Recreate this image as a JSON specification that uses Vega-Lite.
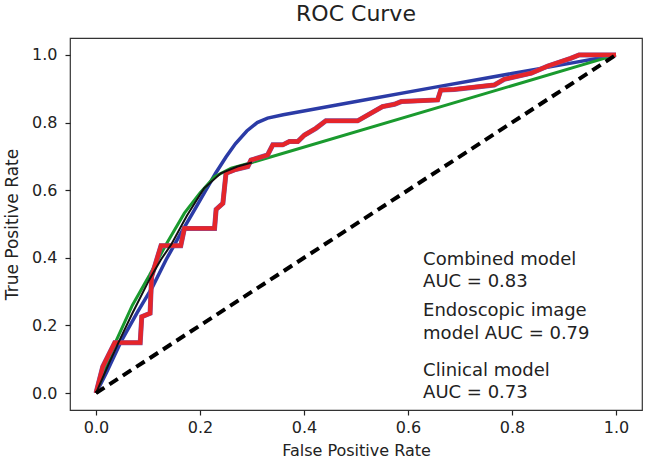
{
  "$schema": "https://vega.github.io/schema/vega-lite/v6.json",
  "autosize": {"type": "none"},
  "padding": {"left": 70, "top": 38, "right": 3, "bottom": 54},
  "width": 572,
  "height": 372,
  "background": "white",
  "title": {"text": "ROC Curve", "font": "DejaVu Sans", "fontSize": 22, "fontWeight": "normal", "color": "#222", "anchor": "middle", "frame": "group", "offset": 12},
  "config": {
    "view": {"stroke": "#333", "strokeWidth": 1.2},
    "axis": {"grid": false, "domain": false, "tickColor": "#222", "tickSize": 5, "tickWidth": 1.2, "labelFont": "DejaVu Sans", "labelFontSize": 16, "labelColor": "#222", "titleFont": "DejaVu Sans", "titleFontSize": 16, "titleFontWeight": "normal", "titleColor": "#222"}
  },
  "datasets": {
    "curves": [
      {"model": "diag", "i": 0, "fpr": 0, "tpr": 0},
      {"model": "diag", "i": 1, "fpr": 1, "tpr": 1},

      {"model": "combined", "i": 0, "fpr": 0, "tpr": 0},
      {"model": "combined", "i": 1, "fpr": 0.02, "tpr": 0.06},
      {"model": "combined", "i": 2, "fpr": 0.048, "tpr": 0.152},
      {"model": "combined", "i": 3, "fpr": 0.08, "tpr": 0.24},
      {"model": "combined", "i": 4, "fpr": 0.109, "tpr": 0.315},
      {"model": "combined", "i": 5, "fpr": 0.135, "tpr": 0.395},
      {"model": "combined", "i": 6, "fpr": 0.163, "tpr": 0.472},
      {"model": "combined", "i": 7, "fpr": 0.185, "tpr": 0.53},
      {"model": "combined", "i": 8, "fpr": 0.208, "tpr": 0.591},
      {"model": "combined", "i": 9, "fpr": 0.23, "tpr": 0.65},
      {"model": "combined", "i": 10, "fpr": 0.25, "tpr": 0.698},
      {"model": "combined", "i": 11, "fpr": 0.268, "tpr": 0.737},
      {"model": "combined", "i": 12, "fpr": 0.29, "tpr": 0.775},
      {"model": "combined", "i": 13, "fpr": 0.31, "tpr": 0.8},
      {"model": "combined", "i": 14, "fpr": 0.33, "tpr": 0.813},
      {"model": "combined", "i": 15, "fpr": 0.36, "tpr": 0.823},
      {"model": "combined", "i": 16, "fpr": 0.5, "tpr": 0.862},
      {"model": "combined", "i": 17, "fpr": 0.65, "tpr": 0.904},
      {"model": "combined", "i": 18, "fpr": 0.8, "tpr": 0.945},
      {"model": "combined", "i": 19, "fpr": 0.9, "tpr": 0.972},
      {"model": "combined", "i": 20, "fpr": 1, "tpr": 1},

      {"model": "clinical", "i": 0, "fpr": 0, "tpr": 0},
      {"model": "clinical", "i": 1, "fpr": 0.02, "tpr": 0.08},
      {"model": "clinical", "i": 2, "fpr": 0.038, "tpr": 0.152},
      {"model": "clinical", "i": 3, "fpr": 0.07, "tpr": 0.26},
      {"model": "clinical", "i": 4, "fpr": 0.103, "tpr": 0.349},
      {"model": "clinical", "i": 5, "fpr": 0.135, "tpr": 0.44},
      {"model": "clinical", "i": 6, "fpr": 0.17, "tpr": 0.532},
      {"model": "clinical", "i": 7, "fpr": 0.2, "tpr": 0.592},
      {"model": "clinical", "i": 8, "fpr": 0.228, "tpr": 0.64},
      {"model": "clinical", "i": 9, "fpr": 0.26, "tpr": 0.665},
      {"model": "clinical", "i": 10, "fpr": 0.3, "tpr": 0.682},
      {"model": "clinical", "i": 11, "fpr": 1, "tpr": 1},

      {"model": "thin", "i": 0, "fpr": 0, "tpr": 0},
      {"model": "thin", "i": 1, "fpr": 0.025, "tpr": 0.088},
      {"model": "thin", "i": 2, "fpr": 0.044, "tpr": 0.152},
      {"model": "thin", "i": 3, "fpr": 0.07, "tpr": 0.236},
      {"model": "thin", "i": 4, "fpr": 0.102, "tpr": 0.334},
      {"model": "thin", "i": 5, "fpr": 0.125, "tpr": 0.395},
      {"model": "thin", "i": 6, "fpr": 0.145, "tpr": 0.44},
      {"model": "thin", "i": 7, "fpr": 0.175, "tpr": 0.525},
      {"model": "thin", "i": 8, "fpr": 0.208, "tpr": 0.606},
      {"model": "thin", "i": 9, "fpr": 0.24, "tpr": 0.65},
      {"model": "thin", "i": 10, "fpr": 0.272, "tpr": 0.67},
      {"model": "thin", "i": 11, "fpr": 0.3, "tpr": 0.682},

      {"model": "endoscopic", "i": 0, "fpr": 0, "tpr": 0},
      {"model": "endoscopic", "i": 1, "fpr": 0.013, "tpr": 0.078},
      {"model": "endoscopic", "i": 2, "fpr": 0.036, "tpr": 0.149},
      {"model": "endoscopic", "i": 3, "fpr": 0.085, "tpr": 0.149},
      {"model": "endoscopic", "i": 4, "fpr": 0.088, "tpr": 0.226},
      {"model": "endoscopic", "i": 5, "fpr": 0.104, "tpr": 0.236},
      {"model": "endoscopic", "i": 6, "fpr": 0.107, "tpr": 0.345},
      {"model": "endoscopic", "i": 7, "fpr": 0.125, "tpr": 0.436},
      {"model": "endoscopic", "i": 8, "fpr": 0.163, "tpr": 0.436},
      {"model": "endoscopic", "i": 9, "fpr": 0.17, "tpr": 0.487},
      {"model": "endoscopic", "i": 10, "fpr": 0.228, "tpr": 0.487},
      {"model": "endoscopic", "i": 11, "fpr": 0.231, "tpr": 0.543},
      {"model": "endoscopic", "i": 12, "fpr": 0.244, "tpr": 0.561},
      {"model": "endoscopic", "i": 13, "fpr": 0.25, "tpr": 0.65},
      {"model": "endoscopic", "i": 14, "fpr": 0.266, "tpr": 0.66},
      {"model": "endoscopic", "i": 15, "fpr": 0.292, "tpr": 0.67},
      {"model": "endoscopic", "i": 16, "fpr": 0.298, "tpr": 0.689},
      {"model": "endoscopic", "i": 17, "fpr": 0.33, "tpr": 0.704},
      {"model": "endoscopic", "i": 18, "fpr": 0.34, "tpr": 0.734},
      {"model": "endoscopic", "i": 19, "fpr": 0.359, "tpr": 0.734},
      {"model": "endoscopic", "i": 20, "fpr": 0.372, "tpr": 0.744},
      {"model": "endoscopic", "i": 21, "fpr": 0.388, "tpr": 0.744},
      {"model": "endoscopic", "i": 22, "fpr": 0.401, "tpr": 0.763},
      {"model": "endoscopic", "i": 23, "fpr": 0.423, "tpr": 0.783},
      {"model": "endoscopic", "i": 24, "fpr": 0.442, "tpr": 0.805},
      {"model": "endoscopic", "i": 25, "fpr": 0.503, "tpr": 0.805},
      {"model": "endoscopic", "i": 26, "fpr": 0.551, "tpr": 0.847},
      {"model": "endoscopic", "i": 27, "fpr": 0.574, "tpr": 0.854},
      {"model": "endoscopic", "i": 28, "fpr": 0.587, "tpr": 0.862},
      {"model": "endoscopic", "i": 29, "fpr": 0.657, "tpr": 0.867},
      {"model": "endoscopic", "i": 30, "fpr": 0.663, "tpr": 0.896},
      {"model": "endoscopic", "i": 31, "fpr": 0.689, "tpr": 0.898},
      {"model": "endoscopic", "i": 32, "fpr": 0.766, "tpr": 0.911},
      {"model": "endoscopic", "i": 33, "fpr": 0.785, "tpr": 0.928},
      {"model": "endoscopic", "i": 34, "fpr": 0.837, "tpr": 0.946},
      {"model": "endoscopic", "i": 35, "fpr": 0.869, "tpr": 0.967},
      {"model": "endoscopic", "i": 36, "fpr": 0.913, "tpr": 0.99},
      {"model": "endoscopic", "i": 37, "fpr": 0.929, "tpr": 1.0},
      {"model": "endoscopic", "i": 38, "fpr": 1.0, "tpr": 1.0}
    ]
  },
  "layer": [
    {
      "data": {"name": "curves"},
      "encoding": {
        "x": {"field": "fpr", "type": "quantitative", "scale": {"domain": [-0.05, 1.05], "nice": false, "zero": false},
          "axis": {"values": [0, 0.2, 0.4, 0.6, 0.8, 1.0], "format": ".1f", "title": "False Positive Rate", "labelPadding": 4, "titlePadding": 7}},
        "y": {"field": "tpr", "type": "quantitative", "scale": {"domain": [-0.05, 1.05], "nice": false, "zero": false},
          "axis": {"values": [0, 0.2, 0.4, 0.6, 0.8, 1.0], "format": ".1f", "title": "True Positive Rate", "labelPadding": 8, "titlePadding": 10, "titleFontSize": 17}},
        "order": {"field": "i", "type": "quantitative"}
      },
      "layer": [
        {"transform": [{"filter": "datum.model === 'combined'"}], "mark": {"type": "line", "color": "#2b3ba6", "strokeWidth": 3.5}},
        {"transform": [{"filter": "datum.model === 'clinical'"}], "mark": {"type": "line", "color": "#1a9a2e", "strokeWidth": 3}},
        {"transform": [{"filter": "datum.model === 'endoscopic'"}], "mark": {"type": "line", "color": "#7a55a8", "strokeWidth": 5}},
        {"transform": [{"filter": "datum.model === 'endoscopic'"}], "mark": {"type": "line", "color": "#e5252a", "strokeWidth": 4.3}},
        {"transform": [{"filter": "datum.model === 'thin'"}], "mark": {"type": "line", "color": "#111", "strokeWidth": 2}},
        {"transform": [{"filter": "datum.model === 'diag'"}], "mark": {"type": "line", "color": "#000", "strokeWidth": 4, "strokeDash": [10, 6], "strokeCap": "butt"}}
      ]
    },
    {"data": {"values": [{"k": 1}]}, "mark": {"type": "text", "text": ["Combined model", "AUC = 0.83"], "align": "left", "baseline": "alphabetic", "font": "DejaVu Sans", "fontSize": 18, "lineHeight": 22, "color": "#222"},
      "encoding": {"x": {"datum": 0.629, "type": "quantitative"}, "y": {"datum": 0.379, "type": "quantitative"}}},
    {"data": {"values": [{"k": 2}]}, "mark": {"type": "text", "text": ["Endoscopic image", "model AUC = 0.79"], "align": "left", "baseline": "alphabetic", "font": "DejaVu Sans", "fontSize": 18, "lineHeight": 23, "color": "#222"},
      "encoding": {"x": {"datum": 0.629, "type": "quantitative"}, "y": {"datum": 0.228, "type": "quantitative"}}},
    {"data": {"values": [{"k": 3}]}, "mark": {"type": "text", "text": ["Clinical model", "AUC = 0.73"], "align": "left", "baseline": "alphabetic", "font": "DejaVu Sans", "fontSize": 18, "lineHeight": 22, "color": "#222"},
      "encoding": {"x": {"datum": 0.629, "type": "quantitative"}, "y": {"datum": 0.05, "type": "quantitative"}}}
  ]
}
